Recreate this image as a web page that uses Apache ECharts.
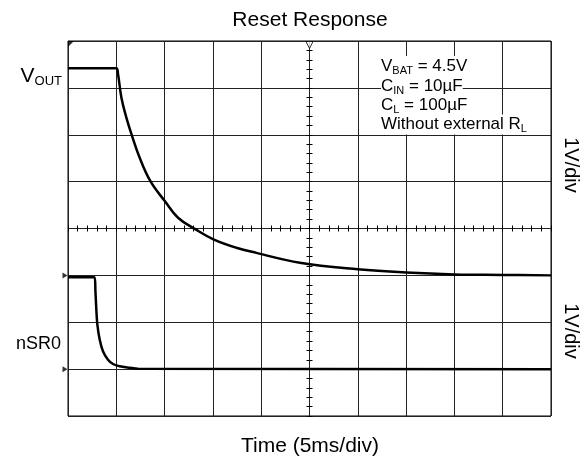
<!DOCTYPE html>
<html>
<head>
<meta charset="utf-8">
<script src="https://cdn.jsdelivr.net/npm/echarts@6/dist/echarts.min.js"></script>
<style>
	html, body { margin: 0; padding: 0; background: #fff; }
	#chart { width: 581px; height: 465px; }
</style>
</head>
<body>
<div id="chart"></div>
<script>
// time in ms (5ms/div), voltages in V (1V/div)
var voutTime = [0, 5.0, 5.18, 5.53, 6.05, 6.56, 7.42, 8.53, 10.04, 11.39, 13.22, 15.05, 17.43, 19.5, 24.0, 30.0, 35.0, 40.0, 45.0, 50.0];
var voutVolt = [4.42, 4.42, 4.29, 3.79, 3.36, 3.02, 2.51, 2.01, 1.58, 1.23, 0.98, 0.77, 0.59, 0.48, 0.27, 0.13, 0.06, 0.02, 0.01, 0.0];

var nsrTime = [0, 2.76, 2.84, 2.94, 3.04, 3.28, 3.62, 4.14, 4.66, 5.35, 6.39, 7.25, 50.0];
var nsrVolt = [1.96, 1.96, 1.66, 1.24, 0.95, 0.63, 0.38, 0.20, 0.11, 0.06, 0.03, 0.01, 0.0];

var notes = [
	'{n|V}{s|BAT}{n| = 4.5V}',
	'{n|C}{s|IN}{n| = 10µF}',
	'{n|C}{s|L}{n| = 100µF}',
	'{n|Without external R}{s|L}'
];

var FONT = 'Liberation Sans, Arial, sans-serif';
var GRID = { left: 68, top: 41, width: 483, height: 375 };

var View = function() {
	var zip = function(xs, ys) {
		var out = [];
		for (var i = 0; i < xs.length; i++) {
			out.push([xs[i], ys[i]]);
		}
		return out;
	}

	var hiddenAxis = function(extra) {
		var axis = {
			type: 'value',
			axisLine: { show: false },
			axisTick: { show: false },
			axisLabel: { show: false },
			splitLine: { show: false }
		};
		for (var k in extra) axis[k] = extra[k];
		return axis;
	}

	// small ticks along the centre cross of the screen
	var centreTicks = function(inside, isX) {
		if (isX) {
			return hiddenAxis({
				position: 'bottom', offset: -GRID.height / 2,
				min: 0, max: 50, interval: 1,
				axisTick: { show: true, inside: inside, length: 3, lineStyle: { color: '#000' } }
			});
		}
		return hiddenAxis({
			position: 'left', offset: -GRID.width / 2,
			min: -3, max: 5, interval: 0.2,
			axisTick: { show: true, inside: inside, length: 3, lineStyle: { color: '#000' } }
		});
	}

	var buildGraphic = function() {
		var g = [];
		g.push({
			type: 'text', x: 310, y: 20,
			style: { text: 'Reset Response', fontFamily: FONT, fontSize: 21, fill: '#000', align: 'center', verticalAlign: 'middle' }
		});
		g.push({
			type: 'text', x: 310, y: 446,
			style: { text: 'Time (5ms/div)', fontFamily: FONT, fontSize: 21, fill: '#000', align: 'center', verticalAlign: 'middle' }
		});
		g.push({
			type: 'text', x: 62, y: 76,
			style: {
				text: '{v|V}{o|OUT}', align: 'right', verticalAlign: 'middle', fill: '#000',
				rich: {
					v: { fontFamily: FONT, fontSize: 21, lineHeight: 24, fill: '#000' },
					o: { fontFamily: FONT, fontSize: 13, lineHeight: 16, verticalAlign: 'bottom', fill: '#000' }
				}
			}
		});
		g.push({
			type: 'text', x: 61, y: 344,
			style: { text: 'nSR0', fontFamily: FONT, fontSize: 18, fill: '#000', align: 'right', verticalAlign: 'middle' }
		});
		g.push({
			type: 'text', x: 571, y: 165, rotation: -Math.PI / 2,
			style: { text: '1V/div', fontFamily: FONT, fontSize: 20, fill: '#000', align: 'center', verticalAlign: 'middle' }
		});
		g.push({
			type: 'text', x: 571, y: 331, rotation: -Math.PI / 2,
			style: { text: '1V/div', fontFamily: FONT, fontSize: 20, fill: '#000', align: 'center', verticalAlign: 'middle' }
		});
		var rowY = [66, 86, 105, 124.5];
		for (var i = 0; i < notes.length; i++) {
			g.push({
				type: 'text', x: 381, y: rowY[i], z: 20,
				style: {
					text: notes[i], align: 'left', verticalAlign: 'middle',
					backgroundColor: '#fff', fill: '#000',
					rich: {
						n: { fontFamily: FONT, fontSize: 17, lineHeight: 20, fill: '#000' },
						s: { fontFamily: FONT, fontSize: 11, lineHeight: 13, verticalAlign: 'bottom', fill: '#000' }
					}
				}
			});
		}
		return g;
	}

	var initChart = function() {
		var myChart = echarts.init(document.getElementById('chart'));
		var option = {
			animation: false,
			backgroundColor: '#fff',
			grid: {
				left: GRID.left, top: GRID.top, width: GRID.width, height: GRID.height,
				show: true, borderColor: '#000', borderWidth: 1
			},
			xAxis: [
				hiddenAxis({
					min: 0, max: 50, interval: 5,
					splitLine: { show: true, lineStyle: { color: '#222', width: 1 } }
				}),
				centreTicks(false, true),
				centreTicks(true, true)
			],
			yAxis: [
				hiddenAxis({
					min: -3, max: 5, interval: 1,
					splitLine: { show: true, lineStyle: { color: '#222', width: 1 } }
				}),
				hiddenAxis({ min: -1, max: 7, interval: 1 }),
				centreTicks(false, false),
				centreTicks(true, false)
			],
			series: [{
				name: 'VOUT',
				type: 'line',
				xAxisIndex: 0, yAxisIndex: 0,
				data: zip(voutTime, voutVolt),
				showSymbol: false,
				smooth: 0.4,
				lineStyle: { color: '#000', width: 2.5 },
				z: 5
			}, {
				name: 'nSR0',
				type: 'line',
				xAxisIndex: 0, yAxisIndex: 1,
				data: zip(nsrTime, nsrVolt),
				showSymbol: false,
				smooth: 0.3,
				lineStyle: { color: '#000', width: 2.5 },
				z: 5
			}, {
				// channel ground markers
				type: 'scatter',
				xAxisIndex: 0, yAxisIndex: 0,
				data: [[0, 0], [0, -2]],
				symbol: 'triangle', symbolRotate: -90, symbolSize: [6, 5], symbolOffset: [-3, 0],
				itemStyle: { color: '#000' },
				clip: false, silent: true, z: 6
			}, {
				// trigger position
				type: 'scatter',
				xAxisIndex: 0, yAxisIndex: 0,
				data: [[25, 5]],
				symbol: 'triangle', symbolRotate: 180, symbolSize: 7, symbolOffset: [0, 4],
				itemStyle: { color: '#fff', borderColor: '#000', borderWidth: 1 },
				clip: false, silent: true, z: 6
			}, {
				// trigger level wedge at the corner
				type: 'scatter',
				xAxisIndex: 0, yAxisIndex: 0,
				data: [[0, 5]],
				symbol: 'path://M0,0L10,0L0,10Z', symbolSize: 6, symbolOffset: [3, 3],
				itemStyle: { color: '#000' },
				clip: false, silent: true, z: 6
			}],
			graphic: buildGraphic()
		};
		myChart.setOption(option);
		return myChart;
	}

	return {
		init: function() {
			initChart();
		}
	}
}();
View.init();
</script>
</body>
</html>
